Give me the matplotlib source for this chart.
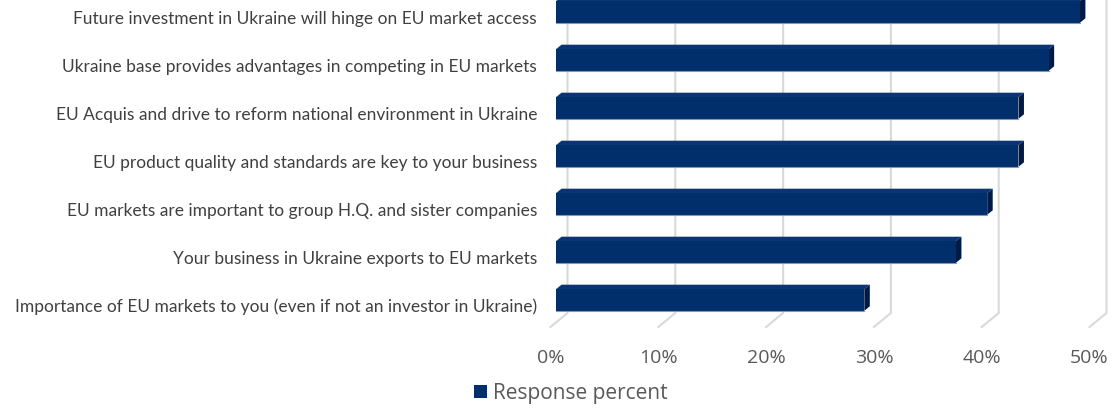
import matplotlib
matplotlib.use("Agg")
import matplotlib.pyplot as plt
from matplotlib.patches import Polygon, Patch
from matplotlib.transforms import offset_copy

# survey answers, top to bottom
categories = [
    "Future investment in Ukraine will hinge on EU market access",
    "Ukraine base provides advantages in competing in EU markets",
    "EU Acquis and drive to reform national environment in Ukraine",
    "EU product quality and standards are key to your business",
    "EU markets are important to group H.Q. and sister companies",
    "Your business in Ukraine exports to EU markets",
    "Importance of EU markets to you (even if not an investor in Ukraine)",
]
values = [48.6, 45.7, 42.9, 42.9, 40.0, 37.1, 28.6]
x_ticks = [0, 10, 20, 30, 40, 50]
x_tick_labels = ["0%", "10%", "20%", "30%", "40%", "50%"]
series_name = "Response percent"

FRONT = "#002F6C"
TOP = "#0B3470"
SIDE = "#001A46"
GRID = "#D9D9D9"
TEXT = "#404040"
TICK_TEXT = "#595959"

# pseudo-3d depth offsets in pixels (display coords, y up)
BAR_DX, BAR_DY = 5.5, 4.5
WALL_DX, WALL_DY = 11.5, 9.5
EDGE_DX, EDGE_DY = -5.5, -4.5

fig = plt.figure(figsize=(11.15, 4.08), dpi=100)
fig.patch.set_facecolor("white")
ax = fig.add_axes([556 / 1115, 1 - 322.5 / 408, 539 / 1115, 334.5 / 408])
ax.set_xlim(0, 50)
ax.set_ylim(6 + 22.5 / 48, -0.5)
ax.axis("off")


def shifted(x, y, dx, dy):
    # move a data point by some pixels and bring it back to data coords
    px, py = ax.transData.transform((x, y))
    return ax.transData.inverted().transform((px + dx, py + dy))


y0, y1 = ax.get_ylim()

# back wall grid + floor lines
for t in x_ticks:
    top = shifted(t, y1, WALL_DX, WALL_DY + 40)
    bottom = shifted(t, y0, WALL_DX, WALL_DY)
    front = shifted(t, y0, EDGE_DX, EDGE_DY)
    ax.plot([top[0], bottom[0], front[0]], [top[1], bottom[1], front[1]],
            color=GRID, lw=1.5, clip_on=False, zorder=1, solid_joinstyle="miter")

# bars
bar_h = 0.45
for i, v in enumerate(values):
    ytop = i - bar_h / 2
    ybot = i + bar_h / 2
    ax.barh(i, v, height=bar_h, color=FRONT, zorder=3)
    top_face = [(0, ytop), (v, ytop),
                tuple(shifted(v, ytop, BAR_DX, BAR_DY)),
                tuple(shifted(0, ytop, BAR_DX, BAR_DY))]
    side_face = [(v, ytop), (v, ybot),
                 tuple(shifted(v, ybot, BAR_DX, BAR_DY)),
                 tuple(shifted(v, ytop, BAR_DX, BAR_DY))]
    ax.add_patch(Polygon(top_face, closed=True, facecolor=TOP, edgecolor="none",
                         zorder=2.5, clip_on=False))
    ax.add_patch(Polygon(side_face, closed=True, facecolor=SIDE, edgecolor="none",
                         zorder=2.5, clip_on=False))
    ax.plot([0, v], [ybot, ybot], color="#8397BC", lw=0.8, zorder=4)

# category labels
lab_tr = offset_copy(ax.transData, fig=fig, x=-19, y=-7, units="dots")
for i, c in enumerate(categories):
    ax.text(0, i, c, transform=lab_tr, ha="right", va="center",
            fontsize=12.5, color=TEXT, family="Lato", clip_on=False)

# value axis labels under the floor edge
tick_tr = offset_copy(ax.transData, fig=fig, x=EDGE_DX, y=EDGE_DY - 31, units="dots")
for t, lab in zip(x_ticks, x_tick_labels):
    ax.text(t, y0, lab, transform=tick_tr, ha="center", va="center",
            fontsize=14, color=TICK_TEXT, family="Open Sans", clip_on=False)

fig.legend(handles=[Patch(facecolor=FRONT, label=series_name)],
           loc="center", bbox_to_anchor=(0.512, 0.036), frameon=False,
           handlelength=0.6, handleheight=0.6, handletextpad=0.3,
           prop={"family": "Open Sans", "size": 15}, labelcolor=TICK_TEXT)

fig.savefig("out.png", dpi=100, facecolor="white")
